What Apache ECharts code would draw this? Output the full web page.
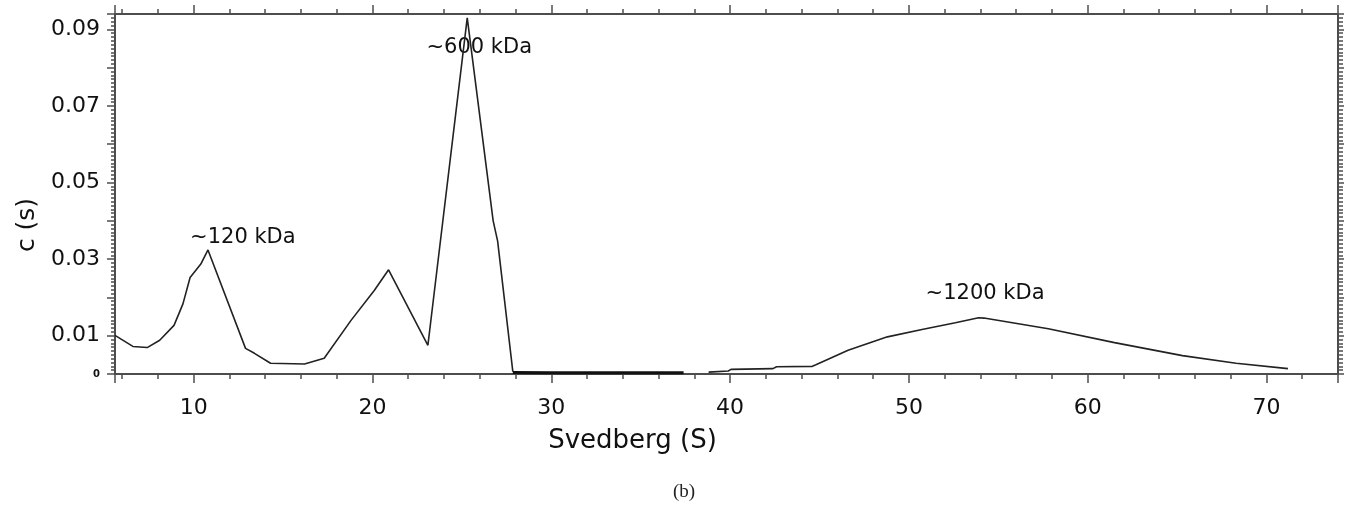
<!DOCTYPE html>
<html>
<head>
<meta charset="utf-8">
<script src="https://cdn.jsdelivr.net/npm/echarts@6/dist/echarts.min.js"></script>
<style>
  html, body { margin: 0; padding: 0; background: #fff; }
  #chart { width: 1355px; height: 512px; }
</style>
</head>
<body>
<div id="chart"></div>
<script>
// c(s) distribution
const peakS = [5.6, 6.6, 7.4, 8.1, 8.9, 9.4, 9.8, 10.4, 10.8, 12.9, 13.4, 14.3, 16.2, 17.3, 18.8, 20.1, 20.9, 23.1, 25.3, 26.75, 27.0, 27.85]
const peakC = [0.0101, 0.0072, 0.0069, 0.0088, 0.0127, 0.0183, 0.0252, 0.0287, 0.0324, 0.0067, 0.0054, 0.0028, 0.0026, 0.0041, 0.0140, 0.0218, 0.0272, 0.0075, 0.0930, 0.0400, 0.0347, 0.0006]
// flat part close to zero (drawn thicker in the original)
const baseS = [27.85, 30, 32, 34, 36, 37.4]
const baseC = [0.0004, 0.0003, 0.0003, 0.0003, 0.0003, 0.0003]
// broad peak on the right
const tailS = [38.8, 39.9, 40.05, 42.4, 42.6, 44.6, 44.8, 46.6, 48.8, 50.8, 52.6, 53.9, 54.2, 57.8, 61.5, 65.3, 68.3, 71.2]
const tailC = [0.0005, 0.0008, 0.0012, 0.0014, 0.0019, 0.0020, 0.0024, 0.0062, 0.0097, 0.0117, 0.0134, 0.0147, 0.0146, 0.0118, 0.0082, 0.0048, 0.0028, 0.0014]
// peak annotations
const annoText = ['~120 kDa', '~600 kDa', '~1200 kDa']
const annoS = [12.75, 25.97, 54.26]
const annoC = [0.0355, 0.0852, 0.0210]

const pairs = (xs, ys) => xs.map((x, i) => [x, ys[i]])

const chart = echarts.init(document.getElementById('chart'))
const axisColor = '#4d4d4d'
const font = 'DejaVu Sans'
const xMin = 5.6
const xMax = 74
const yMin = 0
const yMax = 0.094

const xBase = {
  type: 'value',
  min: xMin,
  max: xMax,
  splitNumber: 7,
  splitLine: { show: false },
  axisLine: { onZero: false, lineStyle: { color: axisColor, width: 2 } },
  axisTick: { length: 9, lineStyle: { color: axisColor, width: 1.5 } },
  minorTick: { show: true, splitNumber: 5, length: 5, lineStyle: { color: axisColor, width: 1.5 } }
}
const yBase = {
  type: 'value',
  min: yMin,
  max: yMax,
  interval: 0.01,
  splitLine: { show: false },
  axisLine: { onZero: false, lineStyle: { color: axisColor, width: 2 } },
  axisTick: { length: 8, lineStyle: { color: axisColor, width: 1.5 } },
  minorTick: { show: true, splitNumber: 10, length: 4, lineStyle: { color: axisColor, width: 1.5 } }
}

const option = {
  animation: false,
  backgroundColor: '#fff',
  title: {
    text: '(b)',
    left: 668,
    top: 478,
    textStyle: { fontFamily: 'Liberation Serif', fontSize: 19, fontWeight: 'normal', color: '#222' }
  },
  grid: { left: 115, right: 17, top: 14, bottom: 138 },
  xAxis: [
    Object.assign({}, xBase, {
      position: 'bottom',
      name: 'Svedberg (S)',
      nameLocation: 'middle',
      nameGap: 54,
      nameTextStyle: { fontFamily: font, fontSize: 26, color: '#111', padding: [0, 188, 0, 0] },
      axisLabel: {
        margin: 23,
        fontFamily: font,
        fontSize: 22,
        color: '#111',
        formatter: v => (Math.abs(v % 10) < 1e-9 ? String(v) : '')
      }
    }),
    Object.assign({}, xBase, {
      position: 'top',
      axisLabel: { show: false }
    })
  ],
  yAxis: [
    Object.assign({}, yBase, {
      position: 'left',
      name: 'c (s)',
      nameLocation: 'middle',
      nameGap: 72,
      nameTextStyle: { fontFamily: font, fontSize: 25, color: '#111', padding: [0, 62, 0, 0] },
      axisLabel: {
        margin: 15,
        fontFamily: font,
        fontSize: 22,
        color: '#111',
        formatter: v => {
          const k = Math.round(v * 100)
          if (Math.abs(v * 100 - k) > 1e-6) return ''
          if (k === 0) return '{z|0}'
          return k % 2 ? v.toFixed(2) : ''
        },
        rich: { z: { fontFamily: font, fontSize: 10, fontWeight: 'bold', color: '#111' } }
      }
    }),
    Object.assign({}, yBase, {
      position: 'right',
      axisLabel: { show: false },
      axisTick: { length: 6, lineStyle: { color: axisColor, width: 1.5 } },
      minorTick: { show: true, splitNumber: 10, length: 5, lineStyle: { color: axisColor, width: 1.5 } }
    })
  ],
  series: [
    {
      type: 'line',
      data: pairs(peakS, peakC),
      showSymbol: false,
      lineStyle: { color: '#222', width: 1.6 }
    },
    {
      type: 'line',
      data: pairs(baseS, baseC),
      showSymbol: false,
      lineStyle: { color: '#111', width: 3 }
    },
    {
      type: 'line',
      data: pairs(tailS, tailC),
      showSymbol: false,
      lineStyle: { color: '#222', width: 1.6 }
    },
    {
      type: 'scatter',
      symbolSize: 1,
      itemStyle: { color: 'rgba(0,0,0,0)', opacity: 1 },
      data: annoS.map((s, i) => ({ value: [s, annoC[i]], name: annoText[i] })),
      label: {
        show: true,
        position: 'inside',
        formatter: '{b}',
        fontFamily: font,
        fontSize: 21,
        color: '#111'
      },
      silent: true
    }
  ]
}
chart.setOption(option)
</script>
</body>
</html>
